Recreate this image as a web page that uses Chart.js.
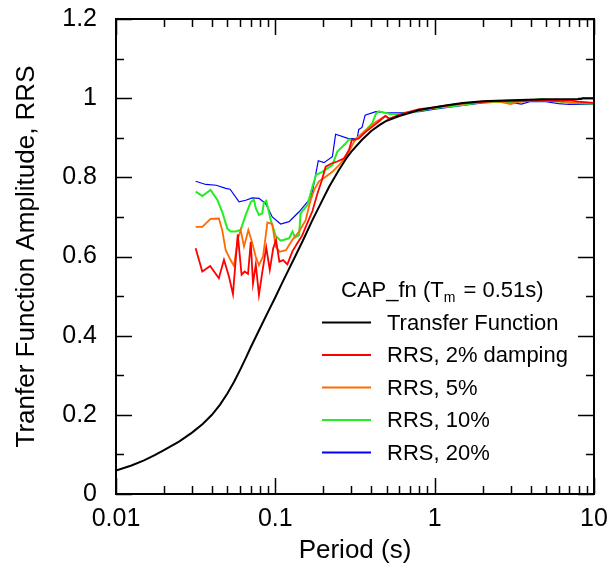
<!DOCTYPE html>
<html>
<head>
<meta charset="utf-8">
<script src="https://cdn.jsdelivr.net/npm/chart.js@4.4.1/dist/chart.umd.min.js"></script>
<style>
  html, body { margin: 0; padding: 0; background: #fff; }
  #wrap { width: 608px; height: 568px; }
</style>
</head>
<body>
<div id="wrap"><canvas id="c" width="608" height="568"></canvas></div>
<script>
// ---------- data ----------
const tfPeriod = [0.01, 0.0125, 0.015, 0.0175, 0.02, 0.025, 0.03, 0.035, 0.04, 0.045, 0.05, 0.055, 0.06, 0.065, 0.07, 0.08, 0.09, 0.1, 0.11, 0.12, 0.135, 0.15, 0.17, 0.183, 0.196, 0.218, 0.25, 0.278, 0.3, 0.35, 0.4, 0.45, 0.5, 0.6, 0.7, 0.8, 1.0, 1.2, 1.5, 2, 3, 5, 8.3, 8.5, 10];
const tfValue  = [0.059, 0.072, 0.085, 0.098, 0.111, 0.133, 0.155, 0.177, 0.2, 0.226, 0.254, 0.283, 0.313, 0.342, 0.37, 0.418, 0.46, 0.497, 0.532, 0.563, 0.605, 0.643, 0.69, 0.716, 0.74, 0.777, 0.818, 0.847, 0.865, 0.895, 0.917, 0.932, 0.943, 0.955, 0.963, 0.97, 0.977, 0.982, 0.988, 0.992, 0.995, 0.997, 0.998, 1.0, 1.0];

const rrs2Period = [0.0316, 0.0348, 0.039, 0.0442, 0.0476, 0.0512, 0.0542, 0.0581, 0.0614, 0.0642, 0.0674, 0.0701, 0.0724, 0.0754, 0.0789, 0.0828, 0.0877, 0.0923, 0.0969, 0.101, 0.106, 0.112, 0.119, 0.128, 0.137, 0.147, 0.159, 0.171, 0.184, 0.195, 0.207, 0.225, 0.245, 0.27, 0.29, 0.302, 0.334, 0.369, 0.428, 0.49, 0.52, 0.6, 0.7, 0.8, 1.0, 1.2, 1.5, 2, 2.5, 3, 4, 5, 6, 7, 8, 10];
const rrs2Value  = [0.621, 0.562, 0.576, 0.545, 0.592, 0.549, 0.505, 0.656, 0.554, 0.562, 0.556, 0.637, 0.532, 0.58, 0.503, 0.56, 0.623, 0.566, 0.62, 0.642, 0.587, 0.591, 0.58, 0.613, 0.633, 0.652, 0.685, 0.715, 0.76, 0.79, 0.827, 0.835, 0.84, 0.848, 0.869, 0.894, 0.898, 0.915, 0.935, 0.955, 0.948, 0.958, 0.966, 0.972, 0.977, 0.982, 0.987, 0.991, 0.993, 0.992, 0.994, 0.994, 0.993, 0.995, 0.991, 0.988];

const rrs5Period = [0.0316, 0.0348, 0.0392, 0.0442, 0.0464, 0.0488, 0.0524, 0.055, 0.0583, 0.0606, 0.0636, 0.0677, 0.071, 0.0753, 0.0789, 0.0837, 0.0892, 0.0957, 0.1005, 0.1065, 0.1165, 0.128, 0.141, 0.155, 0.166, 0.176, 0.188, 0.2, 0.228, 0.251, 0.277, 0.297, 0.312, 0.334, 0.36, 0.398, 0.427, 0.49, 0.52, 0.6, 0.7, 0.8, 1.0, 1.2, 1.5, 2, 2.5, 3, 3.4, 4, 5, 6, 7, 8, 10];
const rrs5Value  = [0.675, 0.675, 0.695, 0.696, 0.667, 0.616, 0.591, 0.576, 0.646, 0.667, 0.625, 0.667, 0.64, 0.6, 0.578, 0.6, 0.686, 0.682, 0.625, 0.612, 0.616, 0.642, 0.663, 0.692, 0.74, 0.77, 0.79, 0.797, 0.814, 0.831, 0.852, 0.873, 0.89, 0.903, 0.915, 0.93, 0.94, 0.955, 0.948, 0.958, 0.965, 0.97, 0.976, 0.981, 0.986, 0.99, 0.992, 0.985, 0.991, 0.993, 0.994, 0.992, 0.99, 0.988, 0.987];

const rrs10Period = [0.0316, 0.0348, 0.0392, 0.0433, 0.0464, 0.0499, 0.0524, 0.0563, 0.0606, 0.0652, 0.0701, 0.0734, 0.0754, 0.0789, 0.0828, 0.0847, 0.0877, 0.0935, 0.1005, 0.108, 0.122, 0.128, 0.133, 0.141, 0.144, 0.159, 0.171, 0.18, 0.197, 0.228, 0.245, 0.277, 0.29, 0.312, 0.334, 0.369, 0.405, 0.427, 0.444, 0.527, 0.6, 0.7, 0.8, 1.0, 1.2, 1.5, 2, 2.5, 3, 4, 4.7, 5.5, 6, 7, 8, 10];
const rrs10Value  = [0.764, 0.753, 0.768, 0.743, 0.713, 0.671, 0.663, 0.663, 0.667, 0.705, 0.738, 0.743, 0.722, 0.705, 0.709, 0.736, 0.741, 0.692, 0.652, 0.64, 0.646, 0.663, 0.648, 0.654, 0.709, 0.73, 0.776, 0.806, 0.814, 0.831, 0.865, 0.886, 0.896, 0.894, 0.903, 0.919, 0.936, 0.96, 0.967, 0.96, 0.96, 0.963, 0.968, 0.975, 0.978, 0.983, 0.99, 0.991, 0.99, 0.994, 0.998, 0.993, 0.992, 0.988, 0.987, 0.986];

const rrs20Period = [0.0316, 0.0366, 0.0426, 0.0488, 0.052, 0.0592, 0.0652, 0.0716, 0.0789, 0.0869, 0.0957, 0.108, 0.122, 0.141, 0.163, 0.171, 0.186, 0.202, 0.228, 0.239, 0.288, 0.326, 0.334, 0.35, 0.366, 0.427, 0.5, 0.6, 0.7, 0.8, 1.0, 1.27, 1.5, 2, 2.5, 3, 3.5, 4, 5, 6, 7, 8, 10];
const rrs20Value  = [0.79, 0.782, 0.78, 0.772, 0.77, 0.738, 0.742, 0.748, 0.747, 0.734, 0.70, 0.682, 0.688, 0.713, 0.743, 0.764, 0.842, 0.837, 0.852, 0.909, 0.898, 0.898, 0.921, 0.926, 0.957, 0.966, 0.963, 0.963, 0.965, 0.966, 0.972, 0.978, 0.982, 0.988, 0.99, 0.989, 0.985, 0.992, 0.991, 0.986, 0.984, 0.984, 0.985];

const seriesLabels = ['Transfer Function', 'RRS, 2% damping', 'RRS, 5%', 'RRS, 10%', 'RRS, 20%'];
const seriesColors = ['#000000', '#ff0000', '#ff6a00', '#22ee22', '#0000ff'];
const xTickValues = [0.01, 0.1, 1, 10];
const yTickValues = [0, 0.2, 0.4, 0.6, 0.8, 1, 1.2];

// ---------- chart ----------
function pts(px, py) { return px.map((p, i) => ({ x: p, y: py[i] })); }

const AREA = { left: 116, right: 594, top: 19, bottom: 494 };
const W = 608, H = 568;
const FONT = '"Liberation Sans", Arial, sans-serif';

const frameAndLegend = {
  id: 'frameAndLegend',
  afterDraw(chart) {
    const ctx = chart.ctx;
    const xs = chart.scales.x, ys = chart.scales.y;
    const ca = chart.chartArea;
    ctx.save();
    ctx.strokeStyle = '#000';
    ctx.lineWidth = 1.5;
    ctx.beginPath();
    for (let k = 0; k <= 12; k++) {
      const v = k / 10;
      const py = Math.round(ys.getPixelForValue(v)) + 0.5;
      const len = (k % 2 === 0) ? 16 : 8;
      ctx.moveTo(ca.left, py); ctx.lineTo(ca.left + len, py);
      ctx.moveTo(ca.right, py); ctx.lineTo(ca.right - len, py);
    }
    for (let d = -2; d <= 0; d++) {
      for (let m = 1; m <= 10; m++) {
        const v = m * Math.pow(10, d);
        const px = Math.round(xs.getPixelForValue(v)) + 0.5;
        const len = (m === 1 || m === 10) ? 16 : 8;
        ctx.moveTo(px, ca.bottom); ctx.lineTo(px, ca.bottom - len);
        ctx.moveTo(px, ca.top); ctx.lineTo(px, ca.top + len);
      }
    }
    ctx.stroke();
    ctx.lineWidth = 2;
    ctx.strokeRect(ca.left, ca.top, ca.right - ca.left, ca.bottom - ca.top);

    // legend
    const lx0 = 322, lx1 = 371, tx = 387;
    ctx.textBaseline = 'middle';
    ctx.textAlign = 'left';
    ctx.fillStyle = '#000';
    ctx.font = '22px ' + FONT;
    let x = 341;
    const ty = 291;
    const t1 = 'CAP_fn (T';
    ctx.fillText(t1, x, ty);
    x += ctx.measureText(t1).width;
    ctx.font = '14px ' + FONT;
    ctx.fillText('m', x, ty + 7);
    x += ctx.measureText('m').width + 2;
    ctx.font = '22px ' + FONT;
    ctx.fillText(' = 0.51s)', x, ty);
    const rows = [322.5, 355, 387.5, 420, 452.5];
    chart.data.datasets.forEach((ds, i) => {
      const y = rows[i];
      ctx.strokeStyle = ds.borderColor;
      ctx.lineWidth = 2;
      ctx.beginPath();
      ctx.moveTo(lx0, y); ctx.lineTo(lx1, y);
      ctx.stroke();
      ctx.fillText(ds.label, tx, y + 1);
    });
    ctx.restore();
  }
};

const widths = [2, 1.8, 1.8, 2, 1.2];
const seriesData = [
  pts(tfPeriod, tfValue), pts(rrs2Period, rrs2Value), pts(rrs5Period, rrs5Value),
  pts(rrs10Period, rrs10Value), pts(rrs20Period, rrs20Value)
];

new Chart(document.getElementById('c'), {
  type: 'line',
  data: {
    datasets: seriesLabels.map((lab, i) => ({
      label: lab, data: seriesData[i], borderColor: seriesColors[i], borderWidth: widths[i],
      pointRadius: 0, fill: false, tension: 0, order: i
    }))
  },
  options: {
    responsive: false,
    animation: false,
    layout: { padding: { left: 0, right: W - AREA.right, top: AREA.top, bottom: 0 } },
    plugins: { legend: { display: false }, tooltip: { enabled: false } },
    scales: {
      x: {
        type: 'logarithmic',
        min: 0.01, max: 10,
        afterBuildTicks: s => { s.ticks = xTickValues.map(v => ({ value: v })); },
        afterFit: s => { s.height = H - AREA.bottom; s.paddingLeft = 0; s.paddingRight = 0; },
        grid: { display: false, drawTicks: false },
        border: { display: false },
        ticks: {
          autoSkip: false, maxRotation: 0, padding: 10,
          color: '#000',
          font: { family: FONT, size: 25 },
          callback: v => String(v)
        },
        title: {
          display: true, text: 'Period (s)', color: '#000',
          font: { family: FONT, size: 26 },
          padding: { top: 0, bottom: 2 }
        }
      },
      y: {
        type: 'linear',
        min: 0, max: 1.2,
        afterBuildTicks: s => { s.ticks = yTickValues.map(v => ({ value: v })); },
        afterFit: s => { s.width = AREA.left; s.paddingTop = 0; s.paddingBottom = 0; },
        grid: { display: false, drawTicks: false },
        border: { display: false },
        ticks: {
          padding: 19, color: '#000',
          font: { family: FONT, size: 25 },
          callback: v => String(Math.round(v * 10) / 10)
        },
        title: {
          display: true, text: 'Tranfer Function Amplitude, RRS', color: '#000',
          font: { family: FONT, size: 26 },
          padding: { top: 11, bottom: 0 }
        }
      }
    }
  },
  plugins: [frameAndLegend]
});
</script>
</body>
</html>
